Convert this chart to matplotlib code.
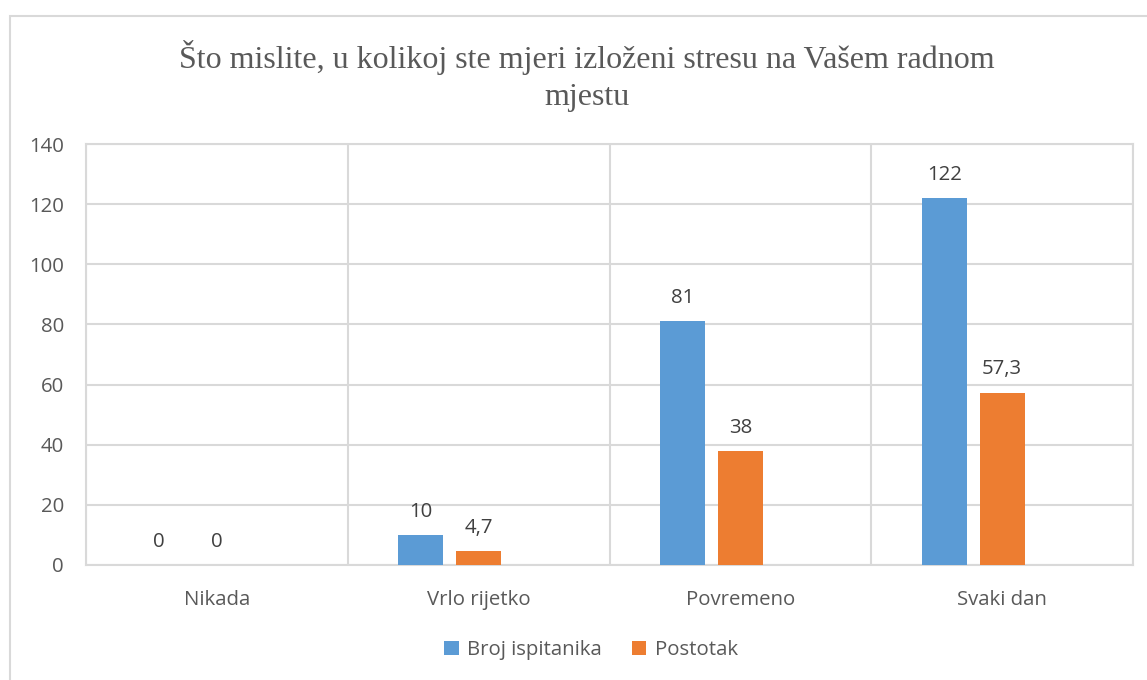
import numpy as np
import matplotlib
matplotlib.use('Agg')
import matplotlib.pyplot as plt
from matplotlib.patches import Rectangle

categories = ['Nikada', 'Vrlo rijetko', 'Povremeno', 'Svaki dan']
broj = [0, 10, 81, 122]
postotak = [0, 4.7, 38, 57.3]
labels_broj = ['0', '10', '81', '122']
labels_post = ['0', '4,7', '38', '57,3']
yticks = [0, 20, 40, 60, 80, 100, 120, 140]

blue = '#5B9BD5'
orange = '#ED7D31'
txt = '#595959'
grid = '#D9D9D9'

plt.rcParams['font.family'] = ['Open Sans', 'DejaVu Sans']

fig = plt.figure(figsize=(11.47, 6.8), dpi=100)
# outer chart border
fig.patches.append(Rectangle((10 / 1147, -0.01), 1.1, 1 - 16 / 680 + 0.01,
                             transform=fig.transFigure, fill=False,
                             edgecolor=grid, linewidth=1.5))

ax = fig.add_axes([86 / 1147, 1 - 565 / 680, (1133 - 86) / 1147, (565 - 144) / 680])

x = np.arange(len(categories))
w = 0.172
off = 0.221
b1 = ax.bar(x - off, broj, w, color=blue, label='Broj ispitanika', zorder=3)
b2 = ax.bar(x, postotak, w, color=orange, label='Postotak', zorder=3)

fs = 14.7
for xi, v, s in zip(x - off, broj, labels_broj):
    ax.annotate(s, (xi, v), xytext=(0, 9.5), textcoords='offset points',
                ha='center', va='bottom', fontsize=fs, color='#404040')
for xi, v, s in zip(x, postotak, labels_post):
    ax.annotate(s, (xi, v), xytext=(0, 9.5), textcoords='offset points',
                ha='center', va='bottom', fontsize=fs, color='#404040')

ax.set_xlim(-0.5, 3.5)
ax.set_ylim(0, 140)
ax.set_yticks(yticks)
ax.set_xticks(x)
ax.set_xticklabels(categories)
ax.set_xticks(np.arange(-0.5, 4.0, 1.0), minor=True)
ax.tick_params(axis='both', which='both', length=0, labelsize=fs, labelcolor=txt)
ax.tick_params(axis='y', pad=16)
ax.tick_params(axis='x', pad=18)
ax.grid(axis='y', which='major', color=grid, linewidth=1.5, zorder=0)
ax.grid(axis='x', which='minor', color=grid, linewidth=1.5, zorder=0)
for sp in ax.spines.values():
    sp.set_color(grid)
    sp.set_linewidth(1.5)

fig.text(587 / 1147, 1 - 76 / 680,
         'Što mislite, u kolikoj ste mjeri izloženi stresu na Vašem radnom\nmjestu',
         ha='center', va='center', fontsize=23, color=txt,
         family='Liberation Serif', linespacing=1.36)

fig.legend(handles=[b1, b2], loc='center', bbox_to_anchor=(591 / 1147, 1 - 650 / 680),
           ncol=2, frameon=False, fontsize=fs, labelcolor=txt,
           handlelength=0.7, handleheight=0.7, handletextpad=0.4, columnspacing=1.5)

fig.savefig('out.png', dpi=100)
